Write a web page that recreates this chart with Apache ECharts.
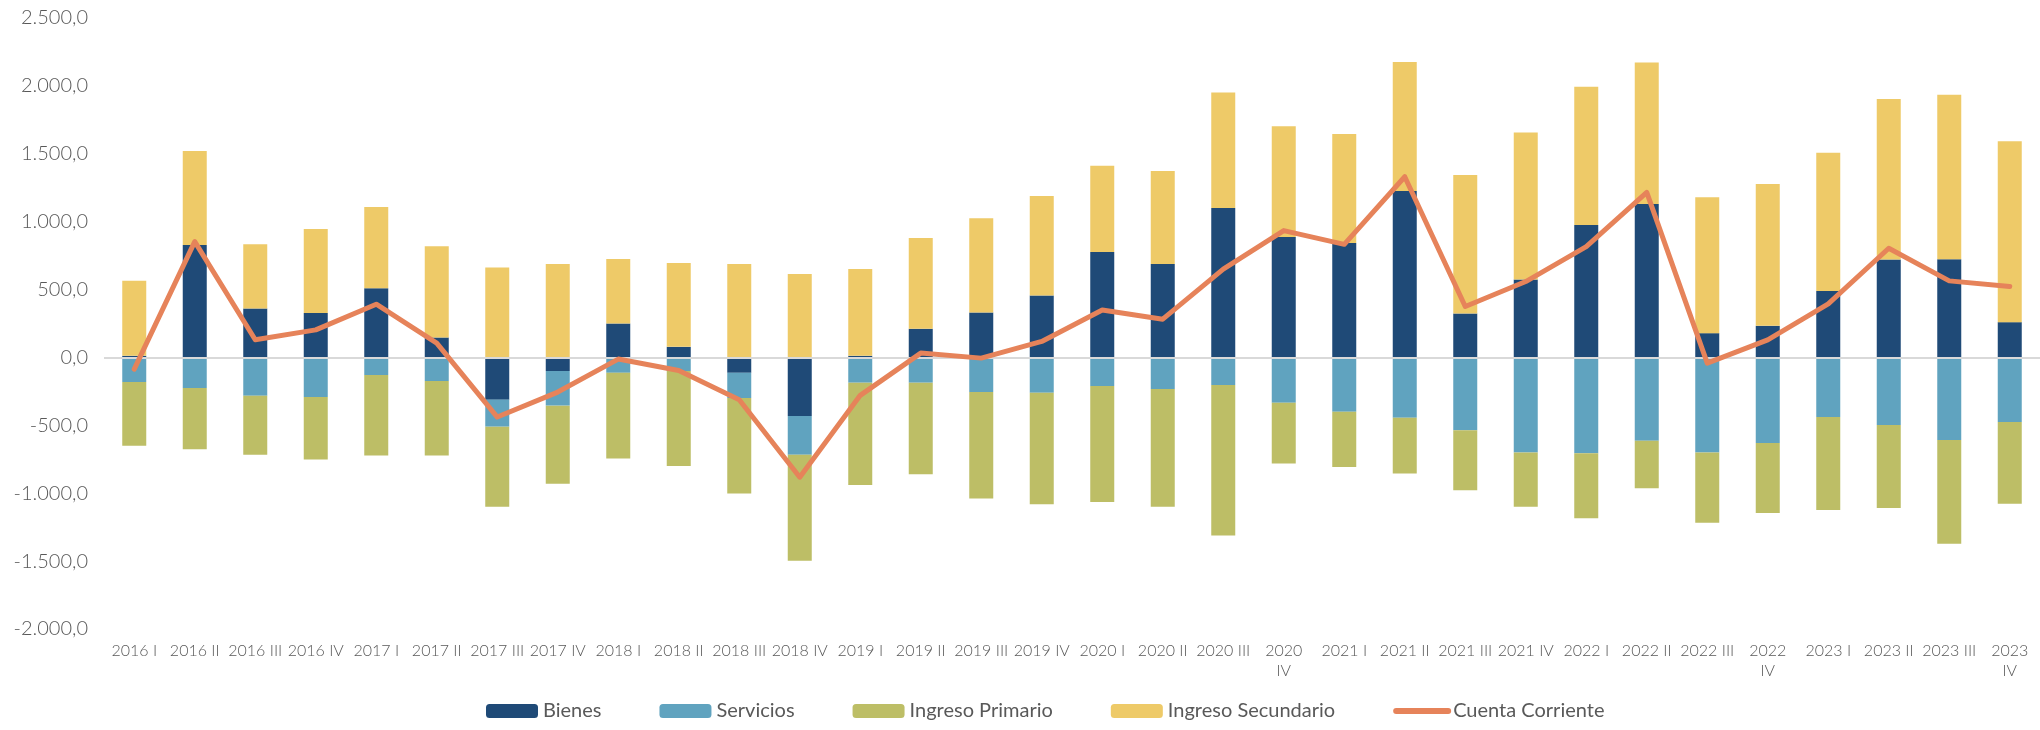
<!DOCTYPE html>
<html lang="es">
<head>
    <meta charset="UTF-8">
    <title>Cuenta Corriente</title>
    <script src="https://cdn.jsdelivr.net/npm/echarts@6/dist/echarts.min.js"></script>
    <style>
        * {
            margin: 0;
            padding: 0;
            box-sizing: border-box;
        }

        html, body {
            width: 2040px;
            height: 730px;
            background: #ffffff;
            overflow: hidden;
        }

        #chart {
            width: 2040px;
            height: 730px;
        }
    </style>
</head>
<body>
    <div id="chart"></div>

    <script>
        // trimestres
        const quarters = [
            '2016 I', '2016 II', '2016 III', '2016 IV',
            '2017 I', '2017 II', '2017 III', '2017 IV',
            '2018 I', '2018 II', '2018 III', '2018 IV',
            '2019 I', '2019 II', '2019 III', '2019 IV',
            '2020 I', '2020 II', '2020 III', '2020\nIV',
            '2021 I', '2021 II', '2021 III', '2021 IV',
            '2022 I', '2022 II', '2022 III', '2022\nIV',
            '2023 I', '2023 II', '2023 III', '2023\nIV'
        ];

        const bienes = [12, 828, 360, 328, 510, 147, -311, -100, 250, 78, -113, -431, 12, 211, 331, 456,
            777, 689, 1100, 887, 843, 1226, 324, 574, 976, 1130, 179, 233, 490, 721, 723, 260];
        const servicios = [-181, -225, -282, -292, -130, -174, -199, -255, -113, -100, -186, -285, -186, -186, -255, -260,
            -211, -233, -203, -333, -400, -444, -537, -701, -706, -613, -701, -630, -439, -498, -608, -475];
        const ingresoPrimario = [-469, -451, -434, -460, -593, -549, -590, -576, -632, -699, -703, -782, -753, -674, -784, -821,
            -853, -867, -1108, -449, -406, -411, -441, -399, -478, -350, -517, -515, -684, -610, -765, -603];
        const ingresoSecundario = [552, 692, 473, 618, 598, 672, 662, 689, 475, 618, 689, 615, 640, 669, 694, 733,
            635, 684, 851, 816, 802, 950, 1019, 1083, 1017, 1042, 1000, 1044, 1017, 1183, 1211, 1333];
        const cuentaCorriente = [-86, 853, 130, 203, 392, 105, -439, -255, -12, -96, -311, -882, -279, 32, -5, 118,
            350, 282, 650, 934, 833, 1331, 375, 559, 816, 1216, -42, 130, 395, 804, 564, 522];

        // formato 2.500,0
        function fmt(v) {
            const parts = Math.abs(v).toFixed(1).split('.');
            const ent = parts[0].replace(/\B(?=(\d{3})+(?!\d))/g, '.');
            return (v < 0 ? '-' : '') + ent + ',' + parts[1];
        }

        function barSeries(name, data, color) {
            return {
                name: name,
                type: 'bar',
                stack: 'cc',
                data: data,
                barWidth: 24,
                itemStyle: { color: color }
            };
        }

        const chart = echarts.init(document.getElementById('chart'));
        const bars = [
            barSeries('Bienes', bienes, '#1f4a77'),
            barSeries('Servicios', servicios, '#60a3bf'),
            barSeries('Ingreso Primario', ingresoPrimario, '#bdbe66'),
            barSeries('Ingreso Secundario', ingresoSecundario, '#eeca68')
        ];
        // línea del cero
        bars[0].markLine = {
            silent: true,
            symbol: 'none',
            label: { show: false },
            lineStyle: { color: '#d9d9d9', width: 2, type: 'solid' },
            data: [{ yAxis: 0 }]
        };

        chart.setOption({
            animation: false,
            grid: {
                left: 104,
                right: 0,
                top: 18,
                bottom: 101
            },
            legend: {
                bottom: 4,
                left: 481,
                itemWidth: 52,
                itemHeight: 14,
                itemGap: 58,
                textStyle: {
                    fontFamily: 'Lato',
                    fontSize: 20,
                    color: '#595959'
                },
                data: ['Bienes', 'Servicios', 'Ingreso Primario', 'Ingreso Secundario', {
                    name: 'Cuenta Corriente',
                    itemStyle: { opacity: 0 },
                    lineStyle: { width: 6, cap: 'round', color: '#e6835a' }
                }]
            },
            xAxis: {
                type: 'category',
                data: quarters,
                axisLine: { show: false, onZero: false },
                axisTick: { show: false },
                axisLabel: {
                    interval: 0,
                    margin: 12,
                    color: '#595959',
                    fontFamily: 'Lato',
                    fontWeight: 300,
                    fontSize: 16,
                    lineHeight: 20
                }
            },
            yAxis: {
                type: 'value',
                min: -2000,
                max: 2500,
                interval: 500,
                splitLine: { show: false },
                axisLine: { show: false },
                axisTick: { show: false },
                axisLabel: {
                    margin: 16,
                    color: '#595959',
                    fontFamily: 'Lato',
                    fontWeight: 300,
                    fontSize: 20,
                    formatter: fmt
                }
            },
            series: bars.concat([{
                name: 'Cuenta Corriente',
                type: 'line',
                data: cuentaCorriente,
                symbol: 'none',
                z: 5,
                lineStyle: { color: '#e6835a', width: 5, cap: 'round', join: 'round' },
                itemStyle: { color: '#e6835a' }
            }])
        });

        window.addEventListener('resize', function() {
            chart.resize();
        });
    </script>
</body>
</html>
